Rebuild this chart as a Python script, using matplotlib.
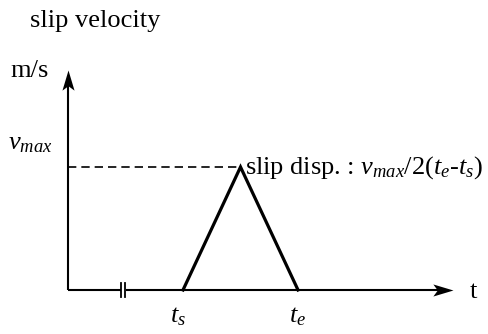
import matplotlib
matplotlib.use("Agg")
import matplotlib.pyplot as plt
from matplotlib.path import Path

plt.rcParams['font.family'] = ['Liberation Serif', 'DejaVu Serif']
plt.rcParams['mathtext.fontset'] = 'custom'
plt.rcParams['mathtext.rm'] = 'Liberation Serif'
plt.rcParams['mathtext.it'] = 'Liberation Serif:italic'

# triangular slip-velocity pulse
t_pts = [2.0, 3.0, 4.0]
v_pts = [0.0, 1.0, 0.0]
t_start, t_peak, t_end = 2.0, 3.0, 4.0
v_max = 1.0
t_break = 0.948
t_axis_end = 6.7
v_axis_end = 1.79

fig = plt.figure(figsize=(4.88, 3.34), dpi=100)
ax = fig.add_axes([0, 0, 1, 1])
ax.set_xlim(-1.183, 7.304)
ax.set_ylim(-0.358, 2.358)
ax.axis('off')

# stealth-style arrow heads, tip at the origin of the marker path
head_right = Path([(0, 0), (-1, 0.3), (-0.78, 0), (-1, -0.3), (0, 0)],
                  [Path.MOVETO, Path.LINETO, Path.LINETO, Path.LINETO, Path.CLOSEPOLY])
head_up = Path([(0, 0), (0.3, -1), (0, -0.78), (-0.3, -1), (0, 0)],
               [Path.MOVETO, Path.LINETO, Path.LINETO, Path.LINETO, Path.CLOSEPOLY])

ax.plot([0, t_axis_end - 0.25], [0, 0], color='black', lw=1.5, solid_capstyle='butt')
ax.plot([0, 0], [0, v_axis_end - 0.1], color='black', lw=1.5, solid_capstyle='butt')
ax.plot([t_axis_end], [0], marker=head_right, ms=29, color='black', mew=0)
ax.plot([0], [v_axis_end], marker=head_up, ms=29, color='black', mew=0)

# axis break marks
for dx in (-0.035, 0.035):
    ax.plot([t_break] * 2, [-0.057, 0.057], color='white', lw=3.5)
for dx in (-0.035, 0.035):
    ax.plot([t_break + dx] * 2, [-0.057, 0.057], color='black', lw=1.3)

ax.plot([0, t_peak], [v_max, v_max], color='black', lw=1.2, ls=(0, (5, 3)))
ax.plot(t_pts, v_pts, color='black', lw=2.3, solid_joinstyle='miter')

fs = 19
ax.text(-0.66, 2.14, 'slip velocity', fontsize=fs, va='baseline')
ax.text(-1.01, 1.73, 'm/s', fontsize=fs, va='baseline')
ax.text(-1.04, 1.14, r'$v_{max}$', fontsize=fs, va='baseline')
ax.text(1.91, -0.26, r'$t_s$', fontsize=fs, va='baseline', ha='center')
ax.text(4.0, -0.26, r'$t_e$', fontsize=fs, va='baseline', ha='center')
ax.text(6.99, -0.065, 't', fontsize=fs, va='baseline')
ax.text(t_peak + 0.08, 0.95, r'slip disp. : $v_{max}/2(t_e$-$t_s)$',
        fontsize=fs, va='baseline')

fig.savefig('out.png', dpi=100)
